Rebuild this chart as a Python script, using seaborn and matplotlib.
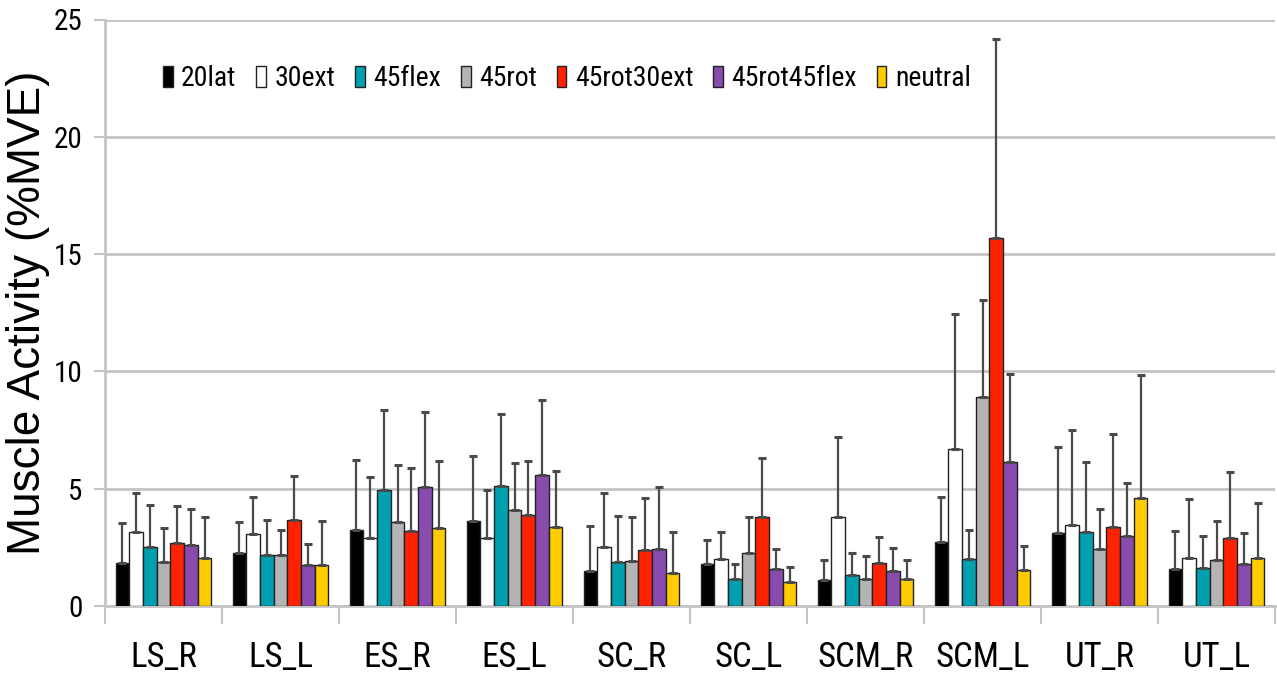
import matplotlib
matplotlib.use("Agg")
import matplotlib.pyplot as plt
from matplotlib.ticker import FixedLocator
import numpy as np
import pandas as pd
import seaborn as sns

# Muscles (x categories) and postures (hue)
muscles = ["LS_R", "LS_L", "ES_R", "ES_L", "SC_R", "SC_L", "SCM_R", "SCM_L", "UT_R", "UT_L"]
postures = ["20lat", "30ext", "45flex", "45rot", "45rot30ext", "45rot45flex", "neutral"]
colors = ["#000000", "#ffffff", "#00a0b0", "#b4b4b4", "#ff2200", "#8a4baf", "#ffcc00"]

# mean muscle activity (%MVE), one list per posture
mean_20lat = [1.85, 2.25, 3.22, 3.63, 1.50, 1.78, 1.12, 2.73, 3.11, 1.59]
mean_30ext = [3.15, 3.05, 2.89, 2.89, 2.52, 2.00, 3.78, 6.71, 3.45, 2.03]
mean_45flex = [2.51, 2.17, 4.96, 5.13, 1.88, 1.13, 1.33, 2.02, 3.15, 1.62]
mean_45rot = [1.88, 2.17, 3.60, 4.09, 1.92, 2.25, 1.15, 8.93, 2.44, 1.98]
mean_45rot30ext = [2.69, 3.66, 3.19, 3.86, 2.38, 3.79, 1.84, 15.69, 3.38, 2.91]
mean_45rot45flex = [2.58, 1.75, 5.06, 5.58, 2.44, 1.58, 1.50, 6.13, 2.97, 1.81]
mean_neutral = [2.04, 1.75, 3.32, 3.36, 1.42, 1.01, 1.15, 1.55, 4.60, 2.03]

# standard deviations (upper error bars)
sd_20lat = [1.70, 1.31, 3.00, 2.77, 1.89, 1.03, 0.82, 1.91, 3.65, 1.60]
sd_30ext = [1.68, 1.61, 2.62, 2.07, 2.31, 1.15, 3.42, 5.72, 4.07, 2.51]
sd_45flex = [1.81, 1.50, 3.40, 3.06, 1.97, 0.65, 0.94, 1.24, 2.97, 1.35]
sd_45rot = [1.44, 1.05, 2.40, 2.01, 1.87, 1.55, 0.99, 4.10, 1.70, 1.63]
sd_45rot30ext = [1.57, 1.87, 2.68, 2.32, 2.24, 2.53, 1.12, 8.49, 3.96, 2.79]
sd_45rot45flex = [1.55, 0.90, 3.19, 3.18, 2.62, 0.83, 0.98, 3.74, 2.26, 1.30]
sd_neutral = [1.76, 1.88, 2.85, 2.41, 1.73, 0.64, 0.79, 1.00, 5.23, 2.34]

means = [mean_20lat, mean_30ext, mean_45flex, mean_45rot, mean_45rot30ext, mean_45rot45flex, mean_neutral]
sds = [sd_20lat, sd_30ext, sd_45flex, sd_45rot, sd_45rot30ext, sd_45rot45flex, sd_neutral]

rows = []
for p, m_list, s_list in zip(postures, means, sds):
    for mus, m, s in zip(muscles, m_list, s_list):
        rows.append({"muscle": mus, "posture": p, "mean": m, "sd": s})
df = pd.DataFrame(rows)

sns.set_style("white")
plt.rcParams["font.family"] = ["Roboto Condensed", "Liberation Sans", "DejaVu Sans"]
plt.rcParams["text.color"] = "black"

fig = plt.figure(figsize=(12.77, 6.82), dpi=100)
ax = fig.add_axes([105 / 1277, 76 / 682, 1170 / 1277, 586.5 / 682])

sns.barplot(data=df, x="muscle", y="mean", hue="posture", order=muscles, hue_order=postures,
            palette=colors, saturation=1, width=0.82, gap=0, errorbar=None,
            edgecolor="#222222", linewidth=1, legend=False, ax=ax, zorder=3)

# upper-only error bars at the bar positions
for cont, s_list in zip(ax.containers, sds):
    xs = [b.get_x() + b.get_width() / 2 for b in cont]
    ys = [b.get_height() for b in cont]
    ax.errorbar(xs, ys, yerr=[np.zeros(len(s_list)), s_list], fmt="none", ecolor="#4a4a4a",
                elinewidth=1.6, capsize=3, capthick=2.2, zorder=4)

ax.set_xlim(-0.5, len(muscles) - 0.5)
ax.set_ylim(0, 25)
ax.set_yticks([0, 5, 10, 15, 20, 25])
ax.yaxis.grid(True, color="#c4c4c4", lw=2, zorder=0)
ax.set_axisbelow(True)

for side in ["top", "right"]:
    ax.spines[side].set_visible(False)
for side in ["left", "bottom"]:
    ax.spines[side].set_color("#c4c4c4")
    ax.spines[side].set_linewidth(2)

ax.tick_params(axis="y", which="major", left=True, length=8, width=1.5, color="#c4c4c4",
               labelsize=21, labelcolor="black", pad=8)
ax.tick_params(axis="x", which="major", bottom=False, labelsize=25, labelcolor="black", pad=22)
ax.xaxis.set_minor_locator(FixedLocator(np.arange(-0.5, len(muscles), 1.0)))
ax.tick_params(axis="x", which="minor", bottom=True, length=13, width=1.5, color="#c4c4c4")

ax.set_xlabel("")
ax.set_ylabel("Muscle Activity (%MVE)", fontsize=33, color="black",
              family=["Liberation Sans", "DejaVu Sans"])
ax.yaxis.set_label_coords(-0.047, 0.5)

ax.legend(ax.containers, postures, loc="upper left", bbox_to_anchor=(0.040, 0.941), ncol=7,
          frameon=False, fontsize=20, handlelength=0.35, handleheight=0.75,
          handletextpad=0.3, columnspacing=0.72, borderaxespad=0)

plt.savefig("out.png", dpi=100)
